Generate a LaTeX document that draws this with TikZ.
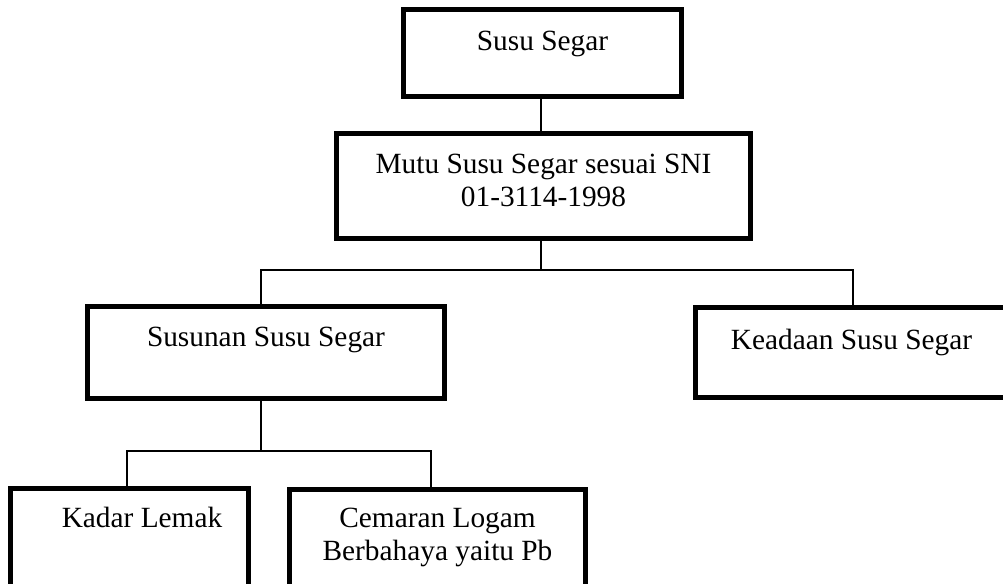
\documentclass[tikz,border=0pt]{standalone}
\usepackage{fontspec}
\setmainfont{Liberation Serif}
\begin{document}
\begin{tikzpicture}
[
x = 0.02cm, y = -0.02cm,
kotak/.style = {draw, line width=2.8pt, inner sep=0pt, align=center, font=\fontsize{16.7}{18.8}\selectfont},
garis/.style = {line width=0.75pt}
]
\useasboundingbox (0,0) rectangle (1003,584);
% kotak-kotak
\node [kotak, minimum width=5.56cm, text height=0.83cm, text depth=0.91cm] (susu) at (542.5,53) {Susu Segar};
\node [kotak, minimum width=8.28cm, text height=1.47cm, text depth=0.63cm] (mutu) at (543.5,186) {Mutu Susu Segar sesuai SNI\\01-3114-1998};
\node [kotak, minimum width=7.14cm, text height=0.8cm, text depth=1.04cm] (susunan) at (266,352.5) {Susunan Susu Segar};
\node [kotak, minimum width=6.24cm, text height=0.83cm, text depth=0.97cm] (keadaan) at (851.5,352.5) {Keadaan Susu Segar};
\node [kotak, minimum width=4.76cm, text height=0.77cm, text depth=1.22cm] (lemak) at (129.5,538.25) {\hspace*{0.5cm}Kadar Lemak};
\node [kotak, minimum width=5.92cm, text height=1.43cm, text depth=0.55cm] (cemaran) at (437.5,538.75) {Cemaran Logam\\Berbahaya yaitu Pb};
% garis penghubung
\coordinate (cabang1) at (541,270);
\coordinate (kiri1) at (261,270);
\coordinate (kanan1) at (853,270);
\coordinate (cabang2) at (261,451);
\coordinate (kiri2) at (127,451);
\coordinate (kanan2) at (431,451);
\draw [garis] (susu.south -| cabang1) -- (mutu.north -| cabang1);
\draw [garis] (mutu.south -| cabang1) -- (cabang1);
\draw [garis] (susunan.north -| kiri1) |- (cabang1) -| (keadaan.north -| kanan1);
\draw [garis] (susunan.south -| cabang2) -- (cabang2);
\draw [garis] (lemak.north -| kiri2) |- (cabang2) -| (cemaran.north -| kanan2);
\end{tikzpicture}
\end{document}
